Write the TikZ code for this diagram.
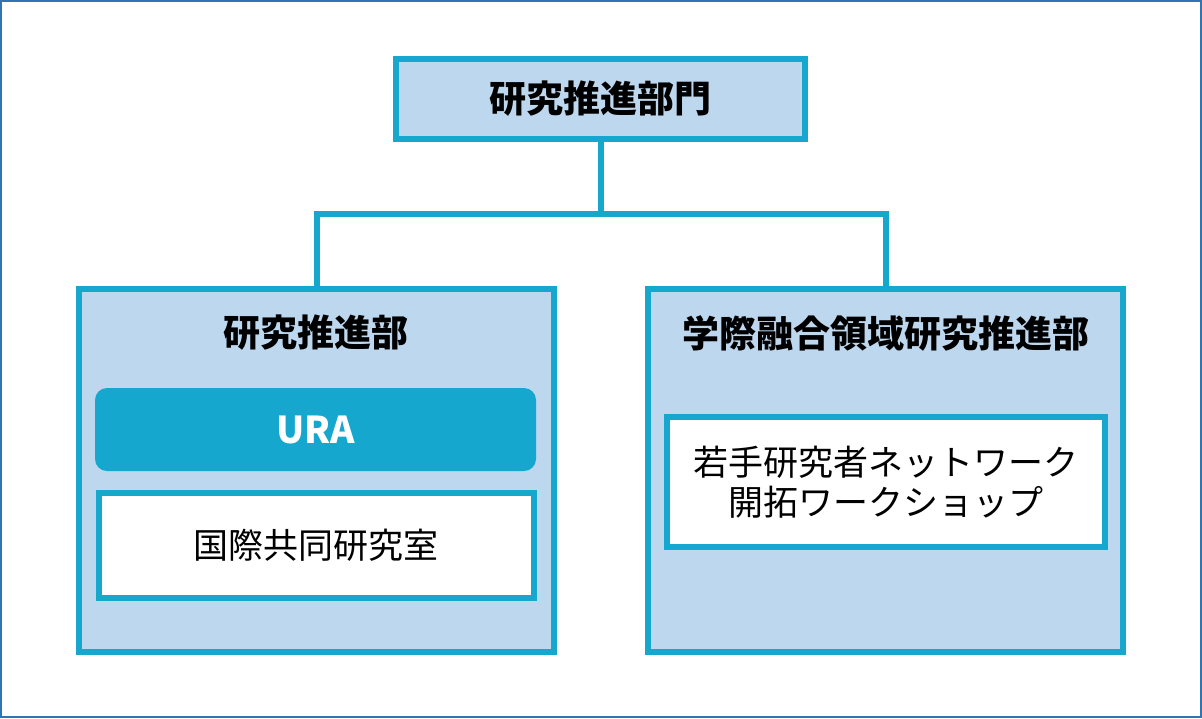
\documentclass[tikz,border=0pt]{standalone}
\usepackage{fontspec}
\newfontfamily\jp{Noto Sans CJK JP}
\definecolor{frameblue}{RGB}{46,117,182}
\definecolor{lineblue}{RGB}{21,167,205}
\definecolor{paleblue}{RGB}{189,215,238}
\begin{document}
\begin{tikzpicture}[x=1pt, y=-1pt]
            \tikzstyle{unit} = [draw=lineblue, line width=6pt, fill=paleblue, inner sep=0pt]
            \tikzstyle{office} = [draw=lineblue, line width=6pt, fill=white, inner sep=0pt, align=center, font=\jp\fontsize{35}{40}\selectfont]
            \tikzstyle{title} = [font=\jp\bfseries\fontsize{37}{42}\selectfont]
            \tikzstyle{link} = [draw=lineblue, line width=6pt]
            \useasboundingbox (0, 0) rectangle (1202, 718);
            \draw[frameblue, line width=2pt] (1, 1) rectangle (1201, 717);
            \node[unit, minimum width=409pt, minimum height=80pt] (dept) at (600.5, 99) {};
            \node[title] at (dept) {研究推進部門};
            \node[unit, minimum width=475pt, minimum height=363pt] (promo) at (316.5, 470.5) {};
            \node[unit, minimum width=475pt, minimum height=363pt] (inter) at (885.5, 470.5) {};
            \coordinate (mid) at (600.5, 214);
            \draw[link] (dept.south) -- (mid);
            \draw[link] (promo.north) |- (mid) -| (inter.north);
            \node[title] (promotitle) at (316, 333) {研究推進部};
            \node[title] (intertitle) at (886, 333) {学際融合領域研究推進部};
            \node[fill=lineblue, rounded corners=12pt, minimum width=441pt, minimum height=83pt, inner sep=0pt, text=white, font=\jp\bfseries\fontsize{37}{42}\selectfont] (ura) at (315.5, 429.5) {URA};
            \node[office, minimum width=435pt, minimum height=105pt] (lab) at (316, 545.5) {国際共同研究室};
            \node[office, minimum width=438pt, minimum height=130pt] (workshop) at (886, 482) {若手研究者ネットワーク\\開拓ワークショップ};
        \end{tikzpicture}
\end{document}
